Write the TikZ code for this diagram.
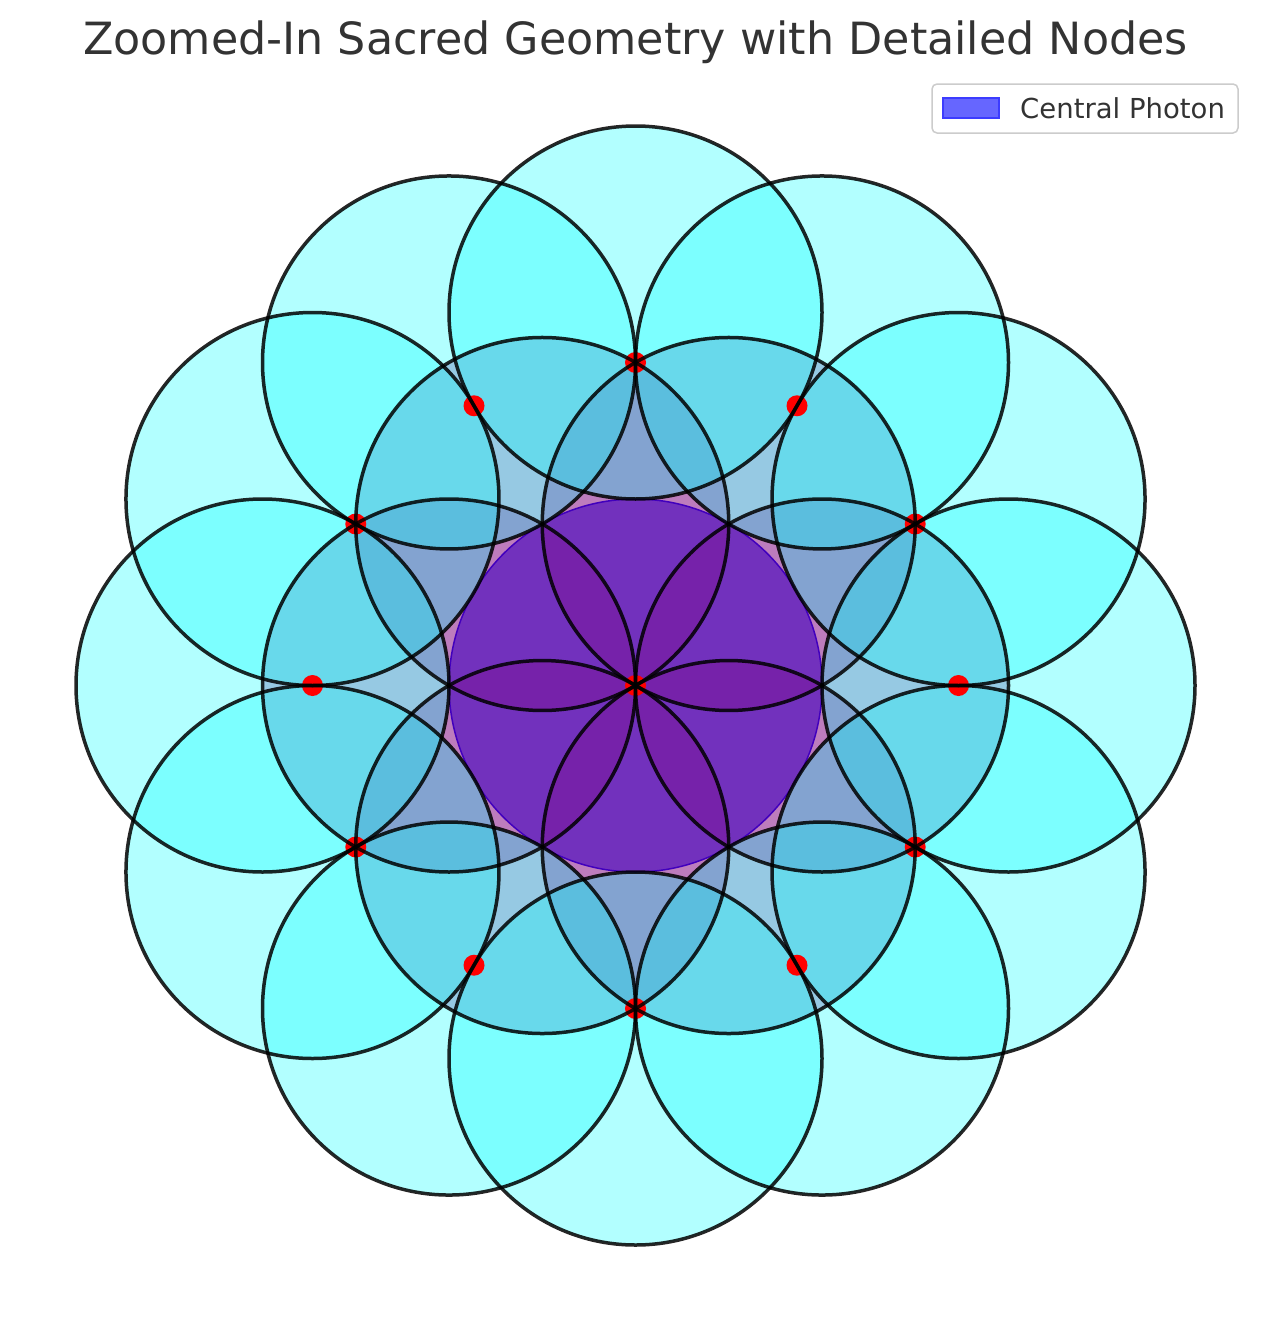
\documentclass[tikz,border=0pt]{standalone}
\usepackage{fontspec}
\setmainfont{DejaVu Sans}
\definecolor{purp}{RGB}{128,0,128}
\definecolor{cyanrgb}{RGB}{0,255,255}
\definecolor{bluergb}{RGB}{0,0,255}
\definecolor{redrgb}{RGB}{255,0,0}
\definecolor{txtgray}{RGB}{51,51,51}
\definecolor{legfill}{RGB}{102,102,255}
\definecolor{legedge}{RGB}{60,60,255}
\definecolor{edgecol}{RGB}{0,0,0}
\tikzset{
  centralfill/.style={fill=bluergb, fill opacity=0.6},
  centraledge/.style={draw=bluergb, line width=1.5pt},
  innerfill/.style={fill=purp, fill opacity=0.3},
  outerfill/.style={fill=cyanrgb, fill opacity=0.3},
  circedge/.style={draw=edgecol, draw opacity=0.85, line width=3.5pt},
  reddot/.style={fill=redrgb},
  legbox/.style={draw=black!20, fill=white, line width=1.5pt, rounded corners=5pt},
  legpatch/.style={fill=legfill, draw=legedge, line width=1.5pt},
}
\begin{document}
\begin{tikzpicture}[x=1pt,y=-1pt]
\useasboundingbox (0,0) rectangle (1271,1322);
\fill[white] (0,0) rectangle (1271,1322);
\coordinate (O) at (635.5,685.5);
% central circle
\fill[centralfill] (O) circle (186.5pt);
\draw[centraledge] (O) circle (186.5pt);
% inner ring fills
\foreach \a in {0,60,...,300}
  \fill[innerfill] (O) ++(\a:186.5pt) circle (186.5pt);
% outer ring fills
\foreach \a in {0,30,...,330}
  \fill[outerfill] (O) ++(\a:373pt) circle (186.5pt);
% nodes
\fill[reddot] (O) circle (10.5pt);
\foreach \a in {0,30,...,330}
  \fill[reddot] (O) ++(\a:323pt) circle (10.5pt);
% edges
\foreach \a in {0,60,...,300}
  \draw[circedge] (O) ++(\a:186.5pt) circle (186.5pt);
\foreach \a in {0,30,...,330}
  \draw[circedge] (O) ++(\a:373pt) circle (186.5pt);
% title
\node[anchor=base, text=txtgray, font=\fontsize{44.4}{50}\selectfont, inner sep=0pt] (title) at (635.5,55) {Zoomed-In Sacred Geometry with Detailed Nodes};
% legend
\draw[legbox] (932,84) rectangle (1238,133);
\draw[legpatch] (943,98) rectangle (999,118);
\node[anchor=base west, text=txtgray, font=\fontsize{27.5}{32}\selectfont, inner sep=0pt] (legtext) at (1020,118) {Central Photon};
\end{tikzpicture}
\end{document}
